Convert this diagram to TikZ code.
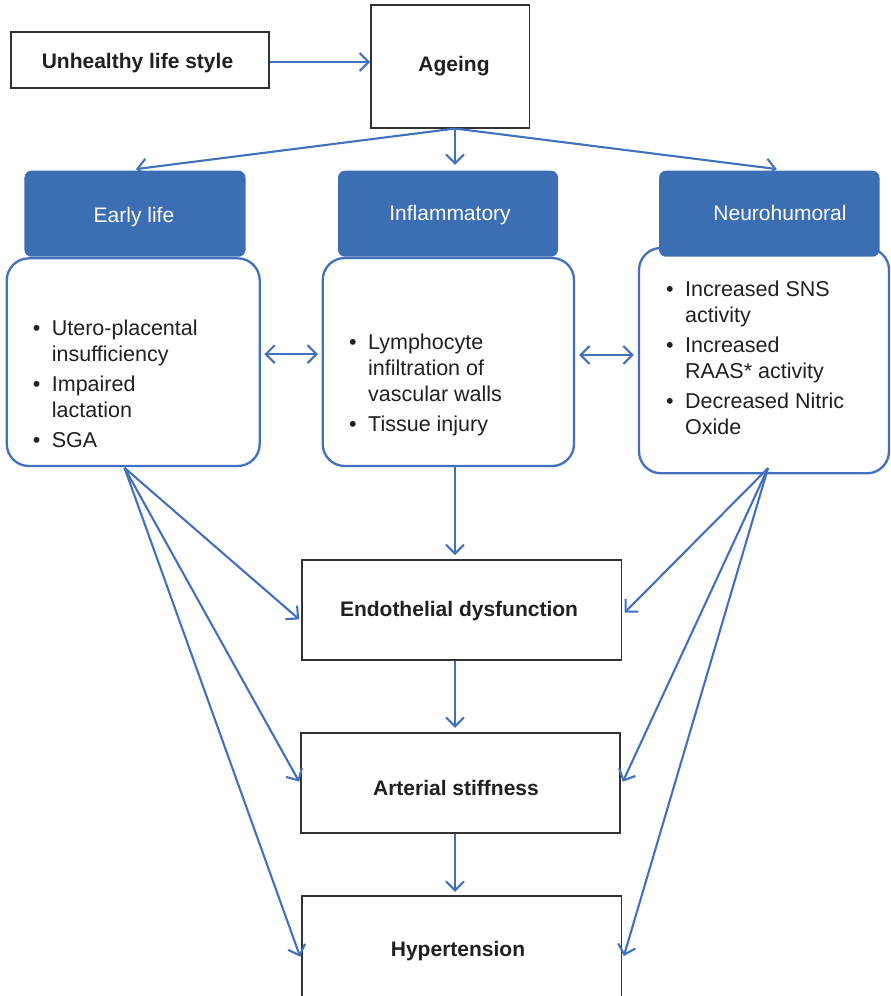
\documentclass[tikz,border=0pt]{standalone}
\usepackage{fontspec}
\setmainfont{Liberation Sans}
\usetikzlibrary{arrows.meta,calc}
\definecolor{hdblue}{RGB}{60,110,180}
\definecolor{lnblue}{RGB}{66,112,190}
\definecolor{boxline}{RGB}{50,50,50}
\definecolor{inktext}{RGB}{35,31,32}
% bullet list: bullet column + text column, top row on the node baseline
\newcommand\bulletlist[1]{\begin{tabular}[t]{@{}p{19pt}@{}l@{}}#1\end{tabular}}

\begin{document}
\begin{tikzpicture}[x=1pt,y=-1pt,
  plainbox/.style={draw=boxline,line width=1.7pt,fill=white,inner sep=0pt},
  headbox/.style={fill=hdblue,rounded corners=7pt,inner sep=0pt},
  listbox/.style={draw=lnblue,line width=2.3pt,rounded corners=22pt,fill=white,inner sep=0pt},
  boxlabel/.style={font=\fontsize{21}{25}\selectfont\bfseries,anchor=base,inner sep=0pt,text=inktext},
  headlabel/.style={font=\fontsize{21}{25}\selectfont,anchor=base,inner sep=0pt,text=white},
  bullets/.style={anchor=base west,inner sep=0pt,text=inktext,font=\fontsize{21.5}{26}\selectfont},
  conn/.style={draw=lnblue,line width=2.1pt,-{Straight Barb[length=9pt,width=18pt]}},
  twoway/.style={draw=lnblue,line width=2.1pt,{Straight Barb[length=9pt,width=18pt]}-{Straight Barb[length=9pt,width=18pt]}}
]
\useasboundingbox (0,0) rectangle (891,996);

% top row
\node[plainbox,minimum width=258pt,minimum height=56pt] (life) at (140,60.3) {};
\node[boxlabel] (lifet) at (137.5,68.3) {Unhealthy life style};
\node[plainbox,minimum width=158.5pt,minimum height=122.4pt] (ageing) at (450.2,66.5) {};
\node[boxlabel] (ageingt) at (454,71) {Ageing};

% the three factor panels
\node[listbox,minimum width=252.9pt,minimum height=207.7pt] (earlylist) at (133.25,362.15) {};
\node[listbox,minimum width=251.3pt,minimum height=208pt] (inflamlist) at (448.35,362) {};
\node[listbox,minimum width=250pt,minimum height=225.3pt] (neurolist) at (764,360.65) {};

\node[headbox,minimum width=221.1pt,minimum height=86pt] (early) at (134.95,213.7) {};
\node[headbox,minimum width=220pt,minimum height=86pt] (inflam) at (448,213.7) {};
\node[headbox,minimum width=220.5pt,minimum height=86pt] (neuro) at (769.25,213.7) {};
\node[headlabel] (earlyt) at (134,222.7) {Early life};
\node[headlabel] (inflamt) at (450,220) {Inflammatory};
\node[headlabel] (neurot) at (780,220) {Neurohumoral};

\node[bullets] (el) at (32.7,335) {\bulletlist{%
  \textbullet & Utero-placental\\ & insufficiency\\[4pt]
  \textbullet & Impaired\\ & lactation\\[4pt]
  \textbullet & SGA}};
\node[bullets] (il) at (349,349) {\bulletlist{%
  \textbullet & Lymphocyte\\ & infiltration of\\ & vascular walls\\[4pt]
  \textbullet & Tissue injury}};
\node[bullets] (nl) at (666,296.7) {\bulletlist{%
  \textbullet & Increased SNS\\ & activity\\[4pt]
  \textbullet & Increased\\ & RAAS* activity\\[4pt]
  \textbullet & Decreased Nitric\\ & Oxide}};

% outcome chain
\node[plainbox,minimum width=319.4pt,minimum height=100pt] (endo) at (461.7,610) {};
\node[boxlabel] (endot) at (459,616.7) {Endothelial dysfunction};
\node[plainbox,minimum width=319pt,minimum height=99.4pt] (art) at (460.5,783) {};
\node[boxlabel] (artt) at (456,795) {Arterial stiffness};
\node[plainbox,minimum width=319.4pt,minimum height=104pt] (hyp) at (461.7,948) {};
\node[boxlabel] (hypt) at (458,956) {Hypertension};

% connectors
\coordinate (spine) at (455,0);
\coordinate (a0) at ([yshift=-1.7pt]life.east);
\draw[conn] (a0) -- (a0 -| ageing.west);

\coordinate (top) at (ageing.south -| spine);
\coordinate (t2) at (inflam.north -| spine);
\draw[conn] (top) -- ([xshift=1pt,yshift=1.4pt]early.north);
\draw[conn] (top) -- ([yshift=5.7pt]t2);
\draw[conn] (top) -- ([xshift=7.5pt,yshift=1.4pt]neuro.north);

\coordinate (d1) at ([xshift=3.5pt,yshift=8pt]earlylist.east);
\coordinate (d1e) at (d1 -| inflamlist.west);
\draw[twoway] (d1) -- ([xshift=-3.5pt]d1e);
\coordinate (d2) at ([xshift=4pt,yshift=7pt]inflamlist.east);
\coordinate (d2e) at (d2 -| neurolist.west);
\draw[twoway] (d2) -- ([xshift=-4pt]d2e);

\coordinate (v1) at (inflamlist.south -| spine);
\coordinate (v1e) at (endo.north -| spine);
\draw[conn] (v1) -- ([yshift=4pt]v1e);
\coordinate (v2) at (endo.south -| spine);
\coordinate (v2e) at (art.north -| spine);
\draw[conn] (v2) -- ([yshift=4.5pt]v2e);
\coordinate (v3) at (art.south -| spine);
\coordinate (v3e) at (hyp.north -| spine);
\draw[conn] (v3) -- ([yshift=3.3pt]v3e);

\coordinate (lf) at ([xshift=-8.75pt,yshift=-0.7pt]earlylist.south);
\draw[conn] (lf) -- ([xshift=-2pt,yshift=-9.3pt]endo.west);
\draw[conn] (lf) -- ([xshift=-1pt,yshift=1.3pt]art.west);
\draw[conn] (lf) -- ([xshift=-1pt,yshift=-8.7pt]hyp.west);

\coordinate (rf) at ([xshift=4pt,yshift=6.3pt]neurolist.south);
\draw[conn] (rf) -- ([xshift=2.3pt,yshift=-2.7pt]endo.east);
\draw[conn] (rf) -- ([xshift=2pt,yshift=1.3pt]art.east);
\draw[conn] (rf) -- ([xshift=1.6pt,yshift=-8pt]hyp.east);
\end{tikzpicture}
\end{document}
